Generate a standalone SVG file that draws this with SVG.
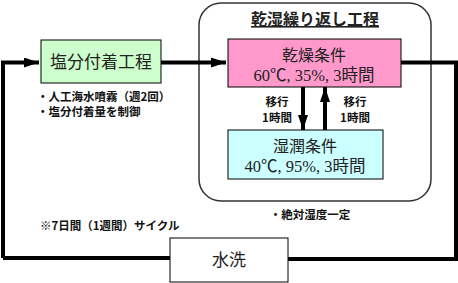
<svg xmlns="http://www.w3.org/2000/svg" width="458" height="283" viewBox="0 0 458 283">
<style>
.box{stroke:#000;stroke-width:1}
.lbl{font-family:"Noto Sans CJK JP","Liberation Sans",sans-serif;font-size:16px;fill:#222;text-anchor:middle}
.num{font-family:"Liberation Serif","Noto Sans CJK JP",serif;font-size:16.5px;fill:#222;text-anchor:middle}
.note{font-family:"Noto Sans CJK JP","Liberation Sans",sans-serif;font-size:11.5px;font-weight:bold;fill:#111}
.ln{stroke:#000;stroke-width:4;fill:none}
</style>
<defs>
<marker id="ah" viewBox="0 0 15 10" refX="15" refY="5" markerWidth="15" markerHeight="10" markerUnits="userSpaceOnUse" orient="auto">
<path d="M0,0 L15,5 L0,10 Z" fill="#000"/>
</marker>
</defs>
<rect width="458" height="283" fill="#fff"/>
<g id="cycle-frame">
<rect x="199" y="3" width="232" height="198" rx="22" fill="none" stroke="#333" stroke-width="1.5"/>
<text x="315" y="25" class="lbl" style="font-weight:bold;font-size:16px;text-decoration:underline">乾湿繰り返し工程</text>
</g>
<g id="connectors">
<path class="ln" d="M161,62.5 H226" marker-end="url(#ah)"/>
<path class="ln" d="M3,258 V62.5 H39" marker-end="url(#ah)"/>
<path class="ln" d="M401,62.5 H456 V259 H288"/>
<path class="ln" d="M170,258 H3"/>
<path class="ln" d="M303,87 V130" marker-end="url(#ah)"/>
<path class="ln" d="M325,130 V87" marker-end="url(#ah)"/>
</g>
<g id="salt">
<rect class="box" x="41" y="40" width="120" height="43" fill="#ccffcc"/>
<text x="101" y="68" class="lbl" style="font-size:17px">塩分付着工程</text>
<text x="37" y="101" class="note">・人工海水噴霧（週2回）</text>
<text x="37" y="116" class="note">・塩分付着量を制御</text>
</g>
<g id="dry">
<rect class="box" x="228" y="39" width="173" height="48" fill="#ff99cc"/>
<text x="314" y="61" class="lbl">乾燥条件</text>
<text x="314" y="81" class="num">60℃, 35%, 3時間</text>
</g>
<g id="wet">
<rect class="box" x="228" y="130" width="155" height="49" fill="#ccffff"/>
<text x="305" y="152" class="lbl">湿潤条件</text>
<text x="305" y="172" class="num">40℃, 95%, 3時間</text>
</g>
<g id="transition-labels">
<text x="277" y="106" class="note" text-anchor="middle">移行</text>
<text x="277" y="122" class="note" text-anchor="middle">1時間</text>
<text x="355" y="106" class="note" text-anchor="middle">移行</text>
<text x="355" y="122" class="note" text-anchor="middle">1時間</text>
</g>
<g id="wash">
<rect class="box" x="170" y="238" width="118" height="44" fill="#fff"/>
<text x="229" y="266" class="lbl" style="font-size:17px">水洗</text>
</g>
<text x="310" y="219" class="note" text-anchor="middle">・絶対湿度一定</text>
<text x="40" y="230" class="note">※7日間（1週間）サイクル</text>
</svg>
